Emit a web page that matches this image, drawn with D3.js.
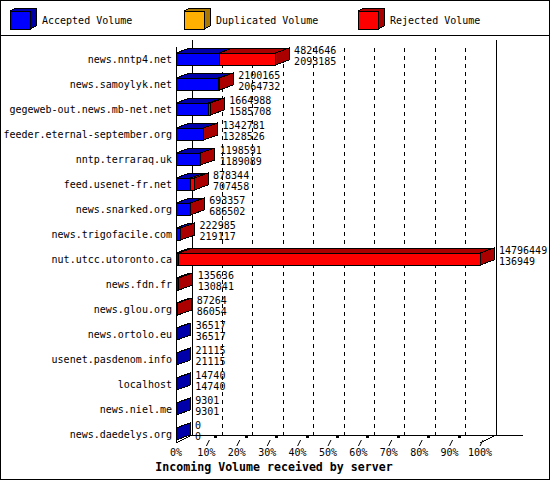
<!DOCTYPE html>
<html>
<head>
<meta charset="utf-8">
<script src="https://cdn.jsdelivr.net/npm/d3@7"></script>
<style>
  body { margin: 0; background: #fff; }
  svg { display: block; }
  text { font-family: 'DejaVu Sans Mono', monospace; font-size: 10px; fill: #000; }
</style>
</head>
<body>
<svg id="chart" width="550" height="480"></svg>
<script>
const hosts = [
  'news.nntp4.net', 'news.samoylyk.net', 'gegeweb-out.news.mb-net.net',
  'feeder.eternal-september.org', 'nntp.terraraq.uk', 'feed.usenet-fr.net',
  'news.snarked.org', 'news.trigofacile.com', 'nut.utcc.utoronto.ca',
  'news.fdn.fr', 'news.glou.org', 'news.ortolo.eu', 'usenet.pasdenom.info',
  'localhost', 'news.niel.me', 'news.daedelys.org'
];
const totalVolume = [4824646, 2100165, 1664988, 1342781, 1198591, 878344, 693357, 222985,
  14796449, 135636, 87264, 36517, 21115, 14740, 9301, 0];
const acceptedVolume = [2093185, 2064732, 1585708, 1328526, 1189089, 707458, 686502, 219117,
  136949, 130841, 86054, 36517, 21115, 14740, 9301, 0];
const legendLabels = ['Accepted Volume', 'Duplicated Volume', 'Rejected Volume'];
const percentTicks = [0, 10, 20, 30, 40, 50, 60, 70, 80, 90, 100];

const colors = { front: ['#0000ff', '#ffb000', '#ff0000'], dark: ['#0000aa', '#aa7700', '#aa0000'] };

const svg = d3.select('#chart').attr('shape-rendering', 'crispEdges');

svg.append('rect')
  .attr('x', 0.5).attr('y', 0.5).attr('width', 549).attr('height', 479)
  .attr('fill', '#fff').attr('stroke', '#000');
svg.append('line')
  .attr('x1', 0).attr('x2', 550).attr('y1', 35.5).attr('y2', 35.5)
  .attr('stroke', '#000');

// legend cubes
const legendX = [10, 184, 358];
legendLabels.forEach((lab, i) => {
  const x = legendX[i], y = 11, w = 20, h = 18, dx = 6, dy = -3;
  const g = svg.append('g');
  g.append('path')
    .attr('d', `M${x},${y}L${x + dx},${y + dy}L${x + w + dx},${y + dy}L${x + w + dx},${y + h + dy}L${x + w},${y + h}L${x + w},${y}Z`)
    .attr('fill', colors.dark[i]).attr('stroke', '#000');
  g.append('rect')
    .attr('x', x).attr('y', y).attr('width', w).attr('height', h)
    .attr('fill', colors.front[i]).attr('stroke', '#000');
  g.append('text').attr('x', x + 32).attr('y', 23.5).text(lab);
});

const depthX = 16, depthY = -8;   // wall depth
const barDX = 14, barDY = -5;     // bar depth
const maxTotal = d3.max(totalVolume);

const pct = d3.scaleLinear().domain([0, 100]).range([176, 480]);
const xVal = (v) => pct(v / maxTotal * 100);
const y = d3.scaleBand().domain(hosts).range([46.5, 446.5]);

const floorY = 443;
const topY = 48;

// back wall + floor
svg.append('line')
  .attr('x1', pct(0) + depthX).attr('x2', pct(0) + depthX)
  .attr('y1', topY + depthY).attr('y2', floorY + depthY)
  .attr('stroke', '#000');
svg.append('line')
  .attr('x1', pct(100) + depthX).attr('x2', pct(100) + depthX)
  .attr('y1', topY + depthY).attr('y2', floorY + depthY)
  .attr('stroke', '#000');
svg.append('line')
  .attr('x1', pct(0) + depthX).attr('x2', 523)
  .attr('y1', floorY + depthY).attr('y2', floorY + depthY)
  .attr('stroke', '#000');
svg.append('line')
  .attr('x1', pct(0)).attr('x2', pct(0) + depthX)
  .attr('y1', floorY).attr('y2', floorY + depthY)
  .attr('stroke', '#000');
svg.append('line')
  .attr('x1', pct(100)).attr('x2', pct(100) + depthX)
  .attr('y1', floorY).attr('y2', floorY + depthY)
  .attr('stroke', '#000');

// dashed grid on back wall
svg.selectAll('.grid')
  .data(percentTicks.filter((t) => t > 0 && t < 100))
  .enter()
  .append('line')
  .attr('x1', (t) => pct(t) + depthX).attr('x2', (t) => pct(t) + depthX)
  .attr('y1', topY).attr('y2', floorY + depthY)
  .attr('stroke', '#000').attr('stroke-dasharray', '4,4');

// front left axis
svg.append('line')
  .attr('x1', pct(0)).attr('x2', pct(0))
  .attr('y1', topY - 1).attr('y2', floorY)
  .attr('stroke', '#000');

// x ticks + labels
percentTicks.forEach((t) => {
  const xf = pct(t);
  if (t > 0) {
    svg.append('line')
      .attr('x1', xf).attr('y1', 446).attr('x2', xf + 3).attr('y2', 440)
      .attr('stroke', '#000').attr('shape-rendering', 'auto');
    if (t < 100) {
      svg.append('rect')
        .attr('x', xf + 8).attr('y', 435).attr('width', 3).attr('height', 3)
        .attr('fill', '#000');
    }
  }
  svg.append('text')
    .attr('x', xf).attr('y', 456)
    .attr('text-anchor', 'middle')
    .text(t + '%');
});

// bars
hosts.forEach((h, i) => {
  const c = y(h) + y.bandwidth() / 2;
  const top = c - 6, bottom = c + 6;
  const segs = [
    { v0: 0, v1: acceptedVolume[i], k: 0 },
    { v0: acceptedVolume[i], v1: totalVolume[i], k: 2 }
  ].filter((s) => s.v1 > s.v0);
  const g = svg.append('g');
  if (segs.length === 0) segs.push({ v0: 0, v1: 0, k: 0 });

  segs.forEach((s) => {
    const x0 = xVal(s.v0), x1 = xVal(s.v1);
    g.append('path')
      .attr('d', `M${x0},${top}L${x0 + barDX},${top + barDY}L${x1 + barDX},${top + barDY}L${x1},${top}Z`)
      .attr('fill', colors.dark[s.k]).attr('stroke', '#000');
    g.append('rect')
      .attr('x', x0).attr('y', top).attr('width', x1 - x0).attr('height', bottom - top)
      .attr('fill', colors.front[s.k]).attr('stroke', '#000');
  });
  const last = segs[segs.length - 1];
  const xe = xVal(last.v1);
  g.append('path')
    .attr('d', `M${xe},${top}L${xe + barDX},${top + barDY}L${xe + barDX},${bottom + barDY}L${xe},${bottom}Z`)
    .attr('fill', colors.dark[last.k]).attr('stroke', '#000');

  g.append('text').attr('x', xe + barDX + 5).attr('y', c - 5).text(totalVolume[i]);
  g.append('text').attr('x', xe + barDX + 5).attr('y', c + 6).text(acceptedVolume[i]);

  svg.append('text')
    .attr('x', 172).attr('y', c + 3.5)
    .attr('text-anchor', 'end')
    .text(h);
});

svg.append('text')
  .attr('x', 274).attr('y', 471)
  .attr('text-anchor', 'middle')
  .style('font-weight', 'bold')
  .style('font-size', '11.6px')
  .text('Incoming Volume received by server');
</script>
</body>
</html>
